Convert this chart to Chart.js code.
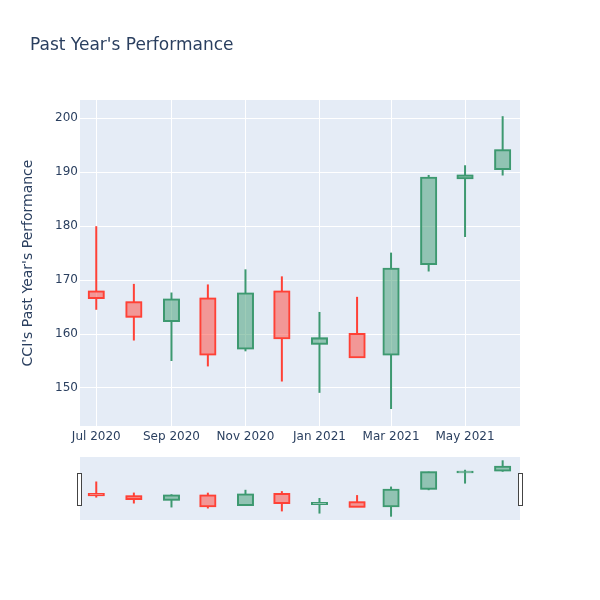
<!DOCTYPE html>
<html><head><meta charset="utf-8">
<script src="https://cdn.jsdelivr.net/npm/chart.js@4.4.1/dist/chart.umd.min.js"></script>
<style>
html,body{margin:0;padding:0;background:#fff;}
#wrap{position:relative;width:600px;height:600px;}
#main{position:absolute;left:0;top:0;}
#slider{position:absolute;left:70px;top:450px;}
</style></head><body>
<div id="wrap"><canvas id="main" width="600" height="600"></canvas><canvas id="slider" width="460" height="80"></canvas></div>
<script>
// ---- data ----
const dates  = ['2020-07-01','2020-08-01','2020-09-01','2020-10-01','2020-11-01','2020-12-01','2021-01-01','2021-02-01','2021-03-01','2021-04-01','2021-05-01','2021-06-01'];
const openV  = [167.9,165.9,162.4,166.6,157.3,167.9,158.2,160.0,156.2,173.0,188.9,190.6];
const highV  = [180.0,169.3,167.7,169.2,172.0,170.7,164.1,166.9,175.1,189.5,191.3,200.4];
const lowV   = [164.5,158.8,155.0,154.0,156.8,151.2,149.1,155.6,146.1,171.6,178.0,189.4];
const closeV = [166.7,163.2,166.4,156.2,167.5,159.2,159.2,155.7,172.1,189.0,189.4,194.1];
const xTickDates  = ['2020-07-01','2020-09-01','2020-11-01','2021-01-01','2021-03-01','2021-05-01'];
const xTickLabels = ['Jul 2020','Sep 2020','Nov 2020','Jan 2021','Mar 2021','May 2021'];
const yTicks = [150,160,170,180,190,200];
const titleText = "Past Year's Performance";
const yTitleText = "CCI's Past Year's Performance";

const day0 = Date.UTC(2020,6,1);
const toDay = s => (Date.parse(s + 'T00:00:00Z') - day0) / 86400000;
const xs = dates.map(toDay);
const xMin = -13.4, xMax = 349.3;

const INC = '#3D9970', DEC = '#FF4136';
const INC_F = 'rgba(61,153,112,0.5)', DEC_F = 'rgba(255,65,54,0.5)';
const isInc = dates.map((d,i) => closeV[i] >= openV[i]);
const lineCol = isInc.map(b => b ? INC : DEC);
const fillCol = isInc.map(b => b ? INC_F : DEC_F);

function makeDatasets(bodyW){
  return [
    { label:'lowerWick', data: xs.map((x,i)=>({x, y:[lowV[i], Math.min(openV[i],closeV[i])]})),
      backgroundColor: lineCol, borderWidth:0, barThickness:2, inflateAmount:0, grouped:false, order:2 },
    { label:'upperWick', data: xs.map((x,i)=>({x, y:[Math.max(openV[i],closeV[i]), highV[i]]})),
      backgroundColor: lineCol, borderWidth:0, barThickness:2, inflateAmount:0, grouped:false, order:2 },
    { label:'body', data: xs.map((x,i)=>({x, y:[openV[i], closeV[i]]})),
      backgroundColor: fillCol, borderColor: lineCol, borderWidth:0.01, borderSkipped:false,
      inflateAmount:1, barThickness:bodyW, grouped:false, order:1 }
  ];
}

const bgPlugin = {
  id:'bg',
  beforeDraw(chart){
    const {ctx, chartArea:a} = chart;
    ctx.save(); ctx.fillStyle = '#E5ECF6';
    ctx.fillRect(a.left, a.top, a.right-a.left, a.bottom-a.top);
    ctx.restore();
  }
};

const FONT = '"DejaVu Sans"';
const titlePlugin = {
  id:'titles',
  afterDraw(chart){
    const ctx = chart.ctx;
    ctx.save();
    ctx.fillStyle = '#2a3f5f';
    ctx.font = '17px ' + FONT;
    ctx.textAlign = 'left'; ctx.textBaseline = 'alphabetic';
    ctx.fillText(titleText, 30, 50);
    ctx.translate(32, 263);
    ctx.rotate(-Math.PI/2);
    ctx.font = '14px ' + FONT;
    ctx.textAlign = 'center';
    ctx.fillText(yTitleText, 0, 0);
    ctx.restore();
  }
};

const font12 = {family:FONT, size:12};

new Chart(document.getElementById('main'), {
  type:'bar',
  data:{ datasets: makeDatasets(15) },
  options:{
    responsive:false, animation:false,
    layout:{ padding:{left:0, right:80, top:100, bottom:150} },
    plugins:{ legend:{display:false}, tooltip:{enabled:false}, title:{display:false} },
    scales:{
      x:{ type:'linear', min:xMin, max:xMax, offset:false,
          afterBuildTicks: s => { s.ticks = xTickDates.map(d => ({value: toDay(d)})); },
          afterFit: s => { s.height = 24; },
          grid:{ color:'#ffffff', lineWidth:1, drawTicks:false, offset:false },
          border:{ display:false },
          ticks:{ color:'#2a3f5f', font:font12, padding:4, autoSkip:false, maxRotation:0,
                  callback:(v,i) => xTickLabels[i] } },
      y:{ type:'linear', min:142.95, max:203.4,
          afterBuildTicks: s => { s.ticks = yTicks.map(v => ({value:v})); },
          afterFit: s => { s.width = 80; },
          grid:{ color:'#ffffff', lineWidth:1, drawTicks:false },
          border:{ display:false },
          ticks:{ color:'#2a3f5f', font:font12, padding:2 } }
    }
  },
  plugins:[bgPlugin, titlePlugin]
});

const handlePlugin = {
  id:'handles',
  afterDraw(chart){
    const {ctx, chartArea:a} = chart;
    ctx.save();
    ctx.fillStyle = '#ffffff'; ctx.strokeStyle = '#444444'; ctx.lineWidth = 1;
    [a.left - 2.5, a.right - 1.5].forEach(x => {
      ctx.fillRect(x, 23.5, 4, 32);
      ctx.strokeRect(x, 23.5, 4, 32);
    });
    ctx.restore();
  }
};

new Chart(document.getElementById('slider'), {
  type:'bar',
  data:{ datasets: makeDatasets(15) },
  options:{
    responsive:false, animation:false,
    layout:{ padding:{left:10, right:10, top:7, bottom:10} },
    plugins:{ legend:{display:false}, tooltip:{enabled:false} },
    scales:{
      x:{ type:'linear', min:xMin, max:xMax, offset:false, display:false },
      y:{ type:'linear', min:142.9, max:203.6, display:false }
    }
  },
  plugins:[bgPlugin, handlePlugin]
});
</script>
</body></html>
